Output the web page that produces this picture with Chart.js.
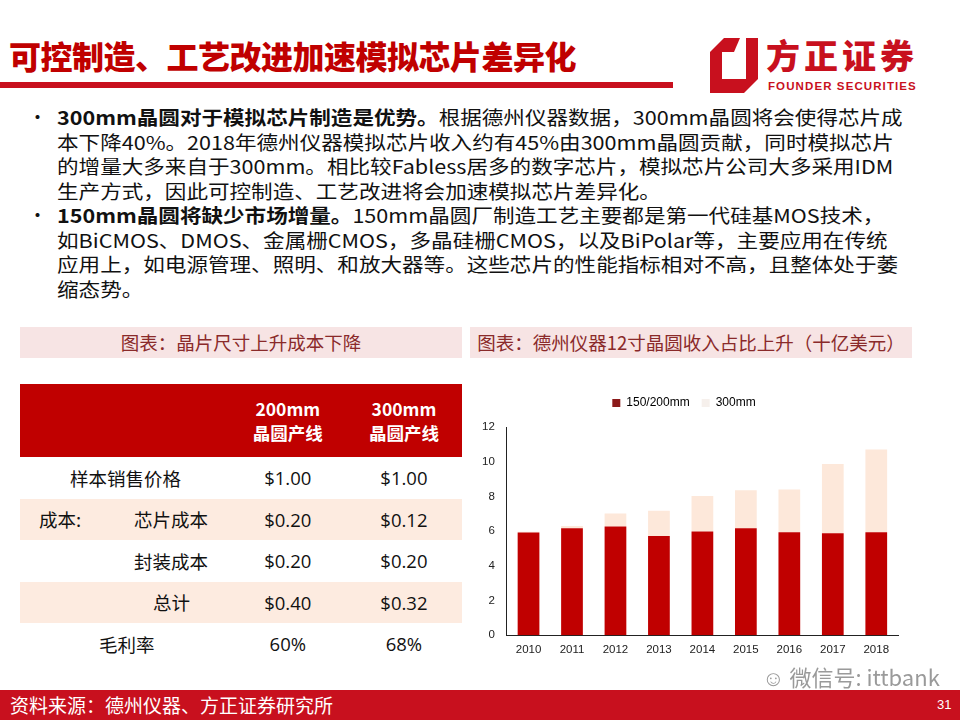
<!DOCTYPE html>
<html>
<head>
<meta charset="utf-8">
<script src="https://cdn.jsdelivr.net/npm/chart.js@4.4.0/dist/chart.umd.min.js"></script>
<style>
  body { margin: 0; width: 960px; height: 720px; position: relative; overflow: hidden; background: #fff;
         font-family: "Noto Sans CJK SC", "Noto Sans", sans-serif; }
  .abs { position: absolute; }
  #title { left: 9px; top: 36px; font-size: 32px; line-height: 38px; font-weight: 900; color: #c00000; letter-spacing: -0.5px; }
  #titleLine { left: 0; top: 82px; width: 673px; height: 6px; background: #c8101e; }
  #logoBox { left: 710px; top: 38px; width: 48px; height: 55px; }
  #logoName { left: 766px; top: 36px; font-size: 34px; line-height: 38px; font-weight: 900; color: #c8101e; letter-spacing: 4px; }
  #logoSub { left: 768px; top: 80px; font-size: 11.5px; line-height: 12px; font-weight: 700; color: #c8101e; font-family: "Liberation Sans Narrow", "Liberation Sans", sans-serif; letter-spacing: 1.1px; }
  #bullets { left: 0; top: 105px; font-size: 19px; line-height: 24.5px; color: #111; }
  .bl { position: relative; padding-left: 57px; white-space: nowrap; height: 24.5px; }
  .bl .dot { position: absolute; left: 28px; top: 0; }
  .bl .t { display: inline-block; transform: scaleX(1.135); transform-origin: 0 0; }
  .cap { top: 327px; height: 31px; background: #f7e4e4; color: #8a2a2a; font-size: 18.5px; line-height: 31px; text-align: center; white-space: nowrap; }
  #cap1 { left: 20px; width: 442px; }
  #cap2 { left: 470px; width: 442px; }
  table { position: absolute; left: 20px; top: 384px; width: 442px; border-collapse: collapse; font-size: 18.5px; color: #111; }
  th { background: #c00000; color: #fff; font-weight: 700; height: 71px; line-height: 24px; font-size: 17.5px; }
  td { height: 41.5px; padding: 0; }
  tr.alt td { background: #fdebe0; }
  .num { text-align: center; font-family: "Open Sans", "Noto Sans", sans-serif; }
  #chartBox { left: 470px; top: 385px; width: 448px; height: 282px; }
  #wm { left: 762px; top: 660px; font-size: 22px; color: #9a9a9a; }
  #footer { left: 0; top: 690px; width: 960px; height: 30px; background: #c8101e; }
  #src { left: 10px; top: 692px; font-size: 19px; line-height: 26px; color: #fff; }
  #page { left: 937px; top: 697px; font-size: 13px; color: #fff; font-family: "Liberation Sans", sans-serif; }
</style>
</head>
<body>
<div id="title" class="abs">可控制造、工艺改进加速模拟芯片差异化</div>
<div id="titleLine" class="abs"></div>
<svg id="logoBox" class="abs" viewBox="0 0 48 55">
  <polygon points="0,14 14,0 48,0 48,41 34,55 0,55" fill="#c8101e"/>
  <polygon points="12,14 36,14 36,41 12,41" fill="#fff"/>
  <polygon points="30,0 36,0 36,14 24,14" fill="#fff"/>
</svg>
<div id="logoName" class="abs">方正证券</div>
<div id="logoSub" class="abs">FOUNDER SECURITIES</div>

<div id="bullets" class="abs">
  <div class="bl"><span class="dot">•</span><span class="t"><b>300mm晶圆对于模拟芯片制造是优势。</b>根据德州仪器数据，300mm晶圆将会使得芯片成</span></div>
  <div class="bl"><span class="t">本下降40%。2018年德州仪器模拟芯片收入约有45%由300mm晶圆贡献，同时模拟芯片</span></div>
  <div class="bl"><span class="t">的增量大多来自于300mm。相比较Fabless居多的数字芯片，模拟芯片公司大多采用IDM</span></div>
  <div class="bl"><span class="t">生产方式，因此可控制造、工艺改进将会加速模拟芯片差异化。</span></div>
  <div class="bl"><span class="dot">•</span><span class="t"><b>150mm晶圆将缺少市场增量。</b>150mm晶圆厂制造工艺主要都是第一代硅基MOS技术，</span></div>
  <div class="bl"><span class="t">如BiCMOS、DMOS、金属栅CMOS，多晶硅栅CMOS，以及BiPolar等，主要应用在传统</span></div>
  <div class="bl"><span class="t">应用上，如电源管理、照明、和放大器等。这些芯片的性能指标相对不高，且整体处于萎</span></div>
  <div class="bl"><span class="t">缩态势。</span></div>
</div>

<div id="cap1" class="abs cap">图表：晶片尺寸上升成本下降</div>
<div id="cap2" class="abs cap">图表：德州仪器12寸晶圆收入占比上升（十亿美元）</div>

<table>
  <tr><th style="width:100px"></th><th style="width:110px"></th><th style="width:116px">200mm<br>晶圆产线</th><th style="width:116px">300mm<br>晶圆产线</th></tr>
  <tr><td colspan="2" style="padding-left:50px">样本销售价格</td><td class="num">$1.00</td><td class="num">$1.00</td></tr>
  <tr class="alt"><td style="padding-left:19px">成本:</td><td style="padding-left:14px">芯片成本</td><td class="num">$0.20</td><td class="num">$0.12</td></tr>
  <tr><td></td><td style="padding-left:14px">封装成本</td><td class="num">$0.20</td><td class="num">$0.20</td></tr>
  <tr class="alt"><td></td><td style="padding-left:33px">总计</td><td class="num">$0.40</td><td class="num">$0.32</td></tr>
  <tr><td colspan="2" style="padding-left:79px">毛利率</td><td class="num">60%</td><td class="num">68%</td></tr>
</table>

<div id="chartBox" class="abs"><canvas id="waferChart"></canvas></div>

<div id="wm" class="abs">☺ 微信号: ittbank</div>
<div id="footer" class="abs"></div>
<div id="src" class="abs">资料来源：德州仪器、方正证券研究所</div>
<div id="page" class="abs">31</div>

<script>
// TI revenue by wafer size, billions USD
const years = ['2010', '2011', '2012', '2013', '2014', '2015', '2016', '2017', '2018'];
const wafer150200 = [5.92, 6.17, 6.27, 5.72, 5.98, 6.17, 5.93, 5.88, 5.93];
const wafer300 = [0.04, 0.12, 0.74, 1.45, 2.04, 2.18, 2.47, 3.99, 4.78];
const yTicks = [0, 2, 4, 6, 8, 10, 12];

// push the plot area a bit further below the legend
const legendGap = {
  id: 'legendGap',
  beforeInit(chart) {
    const fit = chart.legend.fit;
    chart.legend.fit = function() {
      fit.bind(chart.legend)();
      this.height += 8;
    };
  }
};

const ctx = document.getElementById('waferChart');
new Chart(ctx, {
  type: 'bar',
  data: {
    labels: years,
    datasets: [
      {
        label: '150/200mm',
        data: wafer150200,
        backgroundColor: '#c00000',
        barPercentage: 0.5,
        categoryPercentage: 1.0
      },
      {
        label: '300mm',
        data: wafer300,
        backgroundColor: '#fde8da',
        barPercentage: 0.5,
        categoryPercentage: 1.0
      }
    ]
  },
  plugins: [legendGap],
  options: {
    responsive: true,
    maintainAspectRatio: false,
    animation: false,
    layout: { padding: { left: 0, right: 20, top: 0, bottom: 2 } },
    plugins: {
      legend: {
        position: 'top',
        labels: {
          color: '#222',
          font: { family: 'Liberation Sans', size: 12 },
          boxWidth: 8,
          boxHeight: 8,
          padding: 12,
          generateLabels: function(chart) {
            const swatch = ['#8b1a1a', '#f6f0ec'];
            return chart.data.datasets.map((ds, i) => ({
              text: ds.label,
              fillStyle: swatch[i],
              strokeStyle: swatch[i],
              lineWidth: 0,
              datasetIndex: i
            }));
          }
        }
      },
      tooltip: { enabled: false }
    },
    scales: {
      x: {
        stacked: true,
        grid: { display: false, drawTicks: false },
        border: { display: true, color: '#222' },
        ticks: { color: '#222', font: { family: 'Liberation Sans', size: 11.5 }, padding: 8 }
      },
      y: {
        stacked: true,
        min: 0,
        max: 12,
        afterBuildTicks: axis => { axis.ticks = yTicks.map(v => ({ value: v })); },
        grid: { display: false, drawTicks: false },
        border: { display: true, color: '#222' },
        ticks: { color: '#222', font: { family: 'Liberation Sans', size: 11.5 }, padding: 12 }
      }
    }
  }
});
</script>
</body>
</html>
